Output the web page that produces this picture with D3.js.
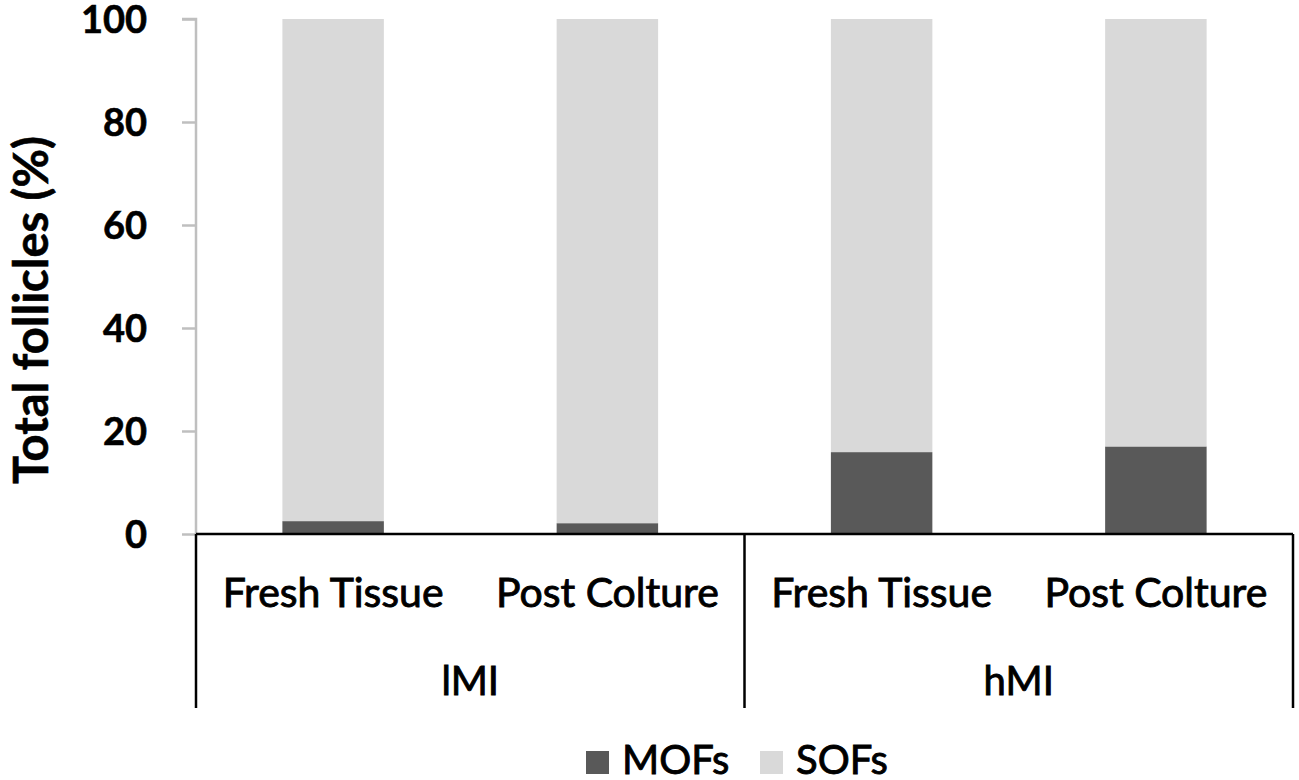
<!DOCTYPE html>
<html><head><meta charset="utf-8">
<script src="https://cdn.jsdelivr.net/npm/d3@7"></script>
<style>body{margin:0;background:#fff}svg{display:block}text{font-family:Lato,"Open Sans",sans-serif;fill:#000}</style>
</head><body>
<svg id="c" width="1299" height="780"></svg>
<script>
const groups = ["lMI", "lMI", "hMI", "hMI"];
const categories = ["Fresh Tissue", "Post Colture", "Fresh Tissue", "Post Colture"];
const MOFs = [2.5, 2.1, 15.9, 17.0];
const SOFs = [97.5, 97.9, 84.1, 83.0];
const seriesNames = ["MOFs", "SOFs"];
const seriesColors = ["#595959", "#d9d9d9"];
const yTicks = [0, 20, 40, 60, 80, 100];

(function () {
const svg = d3.select("#c");
const mLeft = 196, mRight = 1293, mTop = 19, mBottom = 534;
const idx = categories.map((d, i) => i);
const x = d3.scaleBand().domain(idx).range([mLeft, mRight]).paddingInner(0.63).paddingOuter(0.315);
const y = d3.scaleLinear().domain([0, 100]).range([mBottom, mTop]);

const rows = idx.map(i => ({i, MOFs: MOFs[i], SOFs: SOFs[i]}));
const stack = d3.stack().keys(seriesNames)(rows);

svg.append("g").selectAll("g").data(stack).join("g")
  .attr("fill", (d, k) => seriesColors[k])
  .selectAll("rect").data(d => d).join("rect")
  .attr("x", d => x(d.data.i)).attr("width", x.bandwidth())
  .attr("y", d => y(d[1])).attr("height", d => y(d[0]) - y(d[1]));

// y axis
const ya = svg.append("g").attr("transform", `translate(${mLeft},0)`)
  .call(d3.axisLeft(y).tickValues(yTicks).tickSize(14).tickPadding(35));
ya.selectAll("path,line").attr("stroke", "#bfbfbf").attr("stroke-width", 2.5);
ya.select(".domain").attr("d", `M-14,${y(100)}H0V${y(0)}`);
ya.selectAll("text").style("font-family", "Lato").style("font-size", "38px").style("font-weight", "bold")
  .attr("dy", "0.36em").attr("fill", "#000").attr("stroke", "#000").attr("stroke-width", 0.6);

// y title
svg.append("text").attr("transform", `translate(48,310) rotate(-90)`)
  .attr("text-anchor", "middle").style("font-size", "47px").style("font-weight", "bold")
  .attr("stroke", "#000").attr("stroke-width", 0.6)
  .text("Total follicles (%)");

// category axis box
const boxBottom = 708;
const g = svg.append("g").attr("stroke", "#000").attr("stroke-width", 2.5).attr("fill", "none");
g.append("line").attr("x1", mLeft).attr("x2", mRight).attr("y1", mBottom).attr("y2", mBottom);
const bounds = [mLeft, mLeft + 2 * ((mRight - mLeft) / 4), mRight];
bounds.forEach(b => g.append("line").attr("x1", b).attr("x2", b).attr("y1", mBottom).attr("y2", boxBottom));

svg.append("g").selectAll("text").data(idx).join("text")
  .attr("x", i => x(i) + x.bandwidth() / 2).attr("y", 607)
  .attr("text-anchor", "middle").style("font-size", "41px")
  .attr("stroke", "#000").attr("stroke-width", 0.9)
  .text(i => categories[i]);

const groupNames = Array.from(new Set(groups));
svg.append("g").selectAll("text").data(groupNames).join("text")
  .attr("x", (gname, k) => (bounds[k] + bounds[k + 1]) / 2).attr("y", 695)
  .attr("text-anchor", "middle").style("font-size", "40px")
  .attr("stroke", "#000").attr("stroke-width", 0.9)
  .text(d => d);

// legend
const legX = [586, 760];
const leg = svg.append("g").selectAll("g").data(seriesNames).join("g")
  .attr("transform", (d, k) => `translate(${legX[k]},751)`);
leg.append("rect").attr("width", 23).attr("height", 23).attr("fill", (d, k) => seriesColors[k]);
leg.append("text").attr("x", 36).attr("y", 23).style("font-size", "40px")
  .attr("stroke", "#000").attr("stroke-width", 0.9).text(d => d);
})();
</script>
</body></html>
